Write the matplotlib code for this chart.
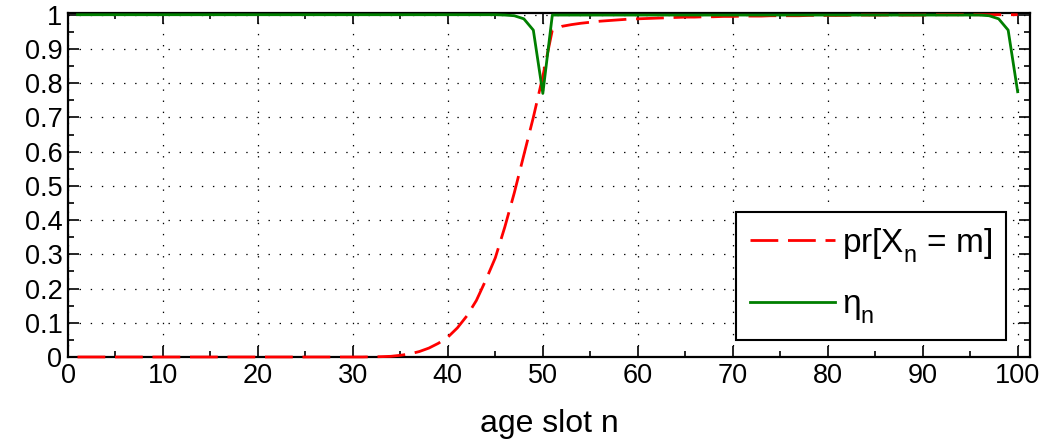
import matplotlib
matplotlib.use("Agg")
import matplotlib.pyplot as plt
from matplotlib.ticker import MultipleLocator

plt.rcParams['font.family'] = ['Liberation Sans', 'DejaVu Sans']
plt.rcParams['mathtext.fontset'] = 'custom'
plt.rcParams['mathtext.rm'] = 'Liberation Sans'
plt.rcParams['mathtext.it'] = 'Liberation Sans'
plt.rcParams['lines.scale_dashes'] = False

# push subscripts a bit lower, like the original export
try:
    import matplotlib._mathtext as mt
    mt.FontConstantsBase.sub1 = 0.6
    mt.FontConstantsBase.sub2 = 0.8
except Exception:
    pass

# age slots n = 1..100
slots = list(range(1, 101))

# pr[X_n = m]
pr_m = [
    0.0, 0.0, 0.0, 0.0, 0.0, 0.0, 0.0, 0.0, 0.0, 0.0,
    0.0, 0.0, 0.0, 0.0, 0.0, 0.0, 0.0, 0.0, 0.0, 0.0,
    0.0, 0.0, 0.0, 0.0, 0.0, 0.0, 0.0, 0.0, 0.0, 0.0,
    0.0, 0.0005, 0.001, 0.002, 0.005, 0.009, 0.016, 0.026, 0.04, 0.058,
    0.085, 0.12, 0.165, 0.225, 0.29, 0.38, 0.48, 0.59, 0.70, 0.82,
    0.955, 0.966, 0.971, 0.975, 0.978, 0.981, 0.983, 0.985, 0.987, 0.988,
    0.989, 0.990, 0.991, 0.992, 0.993, 0.993, 0.994, 0.994, 0.995, 0.995,
    0.996, 0.996, 0.996, 0.997, 0.997, 0.997, 0.997, 0.998, 0.998, 0.998,
    0.998, 0.998, 0.999, 0.999, 0.999, 0.999, 0.999, 0.999, 0.999, 0.999,
    1.0, 1.0, 1.0, 1.0, 1.0, 1.0, 1.0, 1.0, 1.0, 1.0,
]

# eta_n
eta = [
    1.0, 1.0, 1.0, 1.0, 1.0, 1.0, 1.0, 1.0, 1.0, 1.0,
    1.0, 1.0, 1.0, 1.0, 1.0, 1.0, 1.0, 1.0, 1.0, 1.0,
    1.0, 1.0, 1.0, 1.0, 1.0, 1.0, 1.0, 1.0, 1.0, 1.0,
    1.0, 1.0, 1.0, 1.0, 1.0, 1.0, 1.0, 1.0, 1.0, 1.0,
    1.0, 1.0, 1.0, 1.0, 1.0, 0.999, 0.997, 0.988, 0.955, 0.77,
    0.999, 0.999, 0.999, 0.999, 0.999, 0.999, 0.999, 0.999, 0.999, 0.999,
    0.999, 0.999, 0.999, 0.999, 0.999, 0.999, 0.999, 0.999, 0.999, 0.999,
    0.999, 0.999, 0.999, 0.999, 0.999, 0.999, 0.999, 0.999, 0.999, 0.999,
    0.999, 0.999, 0.999, 0.999, 0.999, 0.999, 0.999, 0.999, 0.999, 0.999,
    0.999, 0.999, 0.999, 0.999, 0.999, 0.999, 0.997, 0.988, 0.955, 0.775,
]

fig = plt.figure(figsize=(10.54, 4.43), dpi=100)
ax = fig.add_axes([68 / 1054, 1 - 357 / 443, (1030 - 68) / 1054, (357 - 13) / 443])

ax.plot(slots, pr_m, color='#ff0000', lw=2, dashes=(20, 7), label=r'pr[X$_\mathregular{n}$ = m]',
        clip_on=False, zorder=3)
ax.plot(slots, eta, color='#007f00', lw=2, label=r'$\mathregular{\eta_n}$', clip_on=False, zorder=3)

ax.set_xlim(0, 101.3)
ax.set_ylim(0, 1.005)
ax.xaxis.set_major_locator(MultipleLocator(10))
ax.xaxis.set_minor_locator(MultipleLocator(5))
ax.yaxis.set_minor_locator(MultipleLocator(0.05))
ax.set_yticks([i / 10 for i in range(11)])
ax.set_yticklabels(['0', '0.1', '0.2', '0.3', '0.4', '0.5', '0.6', '0.7', '0.8', '0.9', '1'])

ax.tick_params(which='both', direction='in', top=True, right=True, labelsize=19.5, width=1.2)
ax.tick_params(which='major', length=8, pad=4)
ax.tick_params(which='minor', length=4)
for s in ax.spines.values():
    s.set_linewidth(1.6)

ax.grid(True, which='major', color='black', linestyle=(0, (1, 7)), linewidth=0.9)
ax.set_xlabel('age slot n', fontsize=23, labelpad=15)

leg = ax.legend(loc='lower right', bbox_to_anchor=(0.975, 0.048), fontsize=24, handlelength=2.55,
                fancybox=False, framealpha=1, edgecolor='black', borderpad=0.42,
                labelspacing=0.75, handletextpad=0.2, borderaxespad=0)
leg.get_frame().set_linewidth(1.5)

fig.savefig('out.png', dpi=100)
